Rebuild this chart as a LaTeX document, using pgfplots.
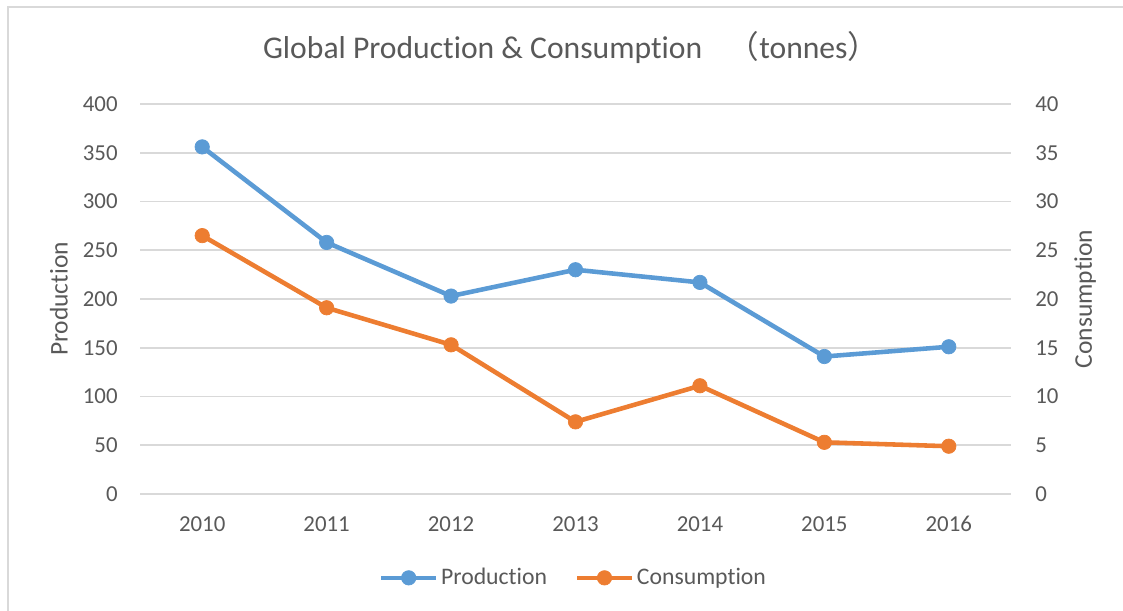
\documentclass[border=0pt]{standalone}
\usepackage{fontspec}
\setmainfont{Carlito}[Ligatures=NoCommon]
\newfontfamily\cjk{Noto Sans CJK SC}
\usepackage{pgfplots}
\pgfplotsset{compat=1.18}
\definecolor{ProdBlue}{HTML}{5B9BD5}
\definecolor{ConsOrange}{HTML}{ED7D31}
\definecolor{TextGray}{HTML}{595959}
\definecolor{GridGray}{HTML}{D9D9D9}

% 1 px of the 1123x611 reference = 0.02cm
\pgfplotsset{
  chartbase/.style={
    at={(2.8cm,2.34cm)}, anchor=south west,
    width=17.42cm, height=7.8cm, scale only axis,
    xmin=-0.5, xmax=6.5,
    xtick={0,...,6}, xticklabels={2010,2011,2012,2013,2014,2015,2016},
    major tick length=0pt,
    axis line style={draw=none},
    /pgf/number format/assume math mode=true,
    tick label style={font=\fontsize{13}{15}\selectfont, color=TextGray, inner sep=0pt},
    xticklabel style={yshift=-0.44cm},
    label style={font=\fontsize{14.5}{17}\selectfont, color=TextGray},
    clip=false,
  },
  serieslook/.style={line width=2.6pt, mark=*, mark size=4.1pt,
    mark options={solid, line width=0.4pt, fill=#1, draw=#1}, color=#1},
}

\begin{document}
\begin{tikzpicture}
\path[use as bounding box] (0,0) rectangle (22.46cm,12.22cm);
\draw[GridGray,line width=0.85pt] (0.16cm,0cm) -- (0.16cm,12.08cm) -- (22.46cm,12.08cm);

% left axis: production
\begin{axis}[chartbase,
  ymin=0, ymax=400, ytick={0,50,...,400},
  ymajorgrids, grid style={GridGray,line width=0.9pt},
  yticklabel style={xshift=-0.44cm},
  ylabel={Production},
  ylabel style={at={(axis description cs:-0.093,0.5)}, anchor=center},
  title={Global Production \& Consumption\hspace{0.8em}{\cjk （}tonnes{\cjk ）}},
  title style={at={(axis description cs:0.495,1.118)}, anchor=center,
    font=\fontsize{18}{21}\selectfont, color=TextGray},
]
\addplot[serieslook=ProdBlue] coordinates {
  (0,356) (1,258) (2,203) (3,230) (4,217) (5,141) (6,151)};
\end{axis}

% right axis: consumption
\begin{axis}[chartbase,
  axis x line=none, axis y line*=right,
  y axis line style={draw=none},
  ymin=0, ymax=40, ytick={0,5,...,40},
  yticklabel style={xshift=0.48cm},
  ylabel={Consumption},
  ylabel style={at={(axis description cs:1.085,0.5)}, anchor=center},
  legend columns=2,
  legend style={at={(axis description cs:0.498,-0.215)}, anchor=center,
    draw=none, fill=none, inner sep=0pt,
    font=\fontsize{13.5}{16}\selectfont, text=TextGray,
    nodes={inner sep=1.5pt},
    /tikz/every even column/.append style={column sep=0.5cm}},
  legend image code/.code={\draw[mark repeat=2,mark phase=2,#1]
    plot coordinates {(0cm,0cm) (0.55cm,0cm) (1.1cm,0cm)};},
]
\addlegendimage{serieslook=ProdBlue}
\addlegendentry{Production}
\addplot[serieslook=ConsOrange] coordinates {
  (0,26.5) (1,19.1) (2,15.3) (3,7.4) (4,11.1) (5,5.3) (6,4.9)};
\addlegendentry{Consumption}
\end{axis}
\end{tikzpicture}
\end{document}
